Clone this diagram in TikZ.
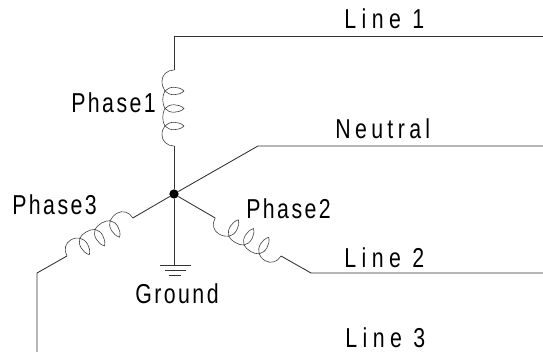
\documentclass[tikz,border=0pt]{standalone}
\usepackage{fontspec}
\setmainfont{Liberation Sans}[FakeStretch=0.78]
\tikzset{
	wire/.style = {line width = 0.65pt, black!80},
	winding/.style = {line width = 0.45pt, black!75},
	tag/.style = {anchor = base west, inner sep = 0pt, font = \fontsize{20.5pt}{22pt}\selectfont\addfontfeature{LetterSpace=#1}},
	coil/.pic = {
		\coordinate (-low) at (0,0);
		\coordinate (-high) at (0,-76);
		\draw [winding](0,0) .. controls (-7,0) and (-12,-5) .. (-12,-11) .. controls (-12,-15) and (-11,-18) .. (-9,-20);
		\draw [winding](-9,-20) .. controls (-12,-24) and (-12,-33) .. (-9,-37.5);
		\draw [winding](-9,-37.5) .. controls (-12,-42) and (-12,-51) .. (-9,-55);
		\draw [winding](-9,-55) .. controls (-11,-58) and (-12,-61) .. (-12,-65) .. controls (-12,-71) and (-7,-76) .. (0,-76);
		\foreach \y in {-20,-37.5,-55}{
			\draw [winding](-9,\y) .. controls (-5,\y-5) and (5,\y-5) .. (10,\y) .. controls (5,\y+5) and (-5,\y+5) .. (-9,\y);
		}
	}
}

\begin{document}
\begin{tikzpicture}[x = 0.75pt, y = -0.75pt]
	\useasboundingbox (0,0) rectangle (543,352);

	\node (star)[circle, fill = black, inner sep = 0pt, minimum size = 7pt] at (174,194) {};

	\pic (one) at (174,146) {coil};
	\pic (two)[rotate = 60] at (281,256) {coil};
	\pic (three)[rotate = -60] at (67,256) {coil};

	\coordinate (lineA) at (543,36);
	\coordinate (cornerA) at (174,36);
	\coordinate (neutralA) at (258,146);
	\coordinate (neutralB) at (543,146);
	\coordinate (lineB) at (311,273);
	\coordinate (lineBend) at (543,273);
	\coordinate (cornerC) at (37,273);
	\coordinate (lineC) at (37,352);

	\coordinate (g0) at (174,265);
	\coordinate (g1l) at (160,265);
	\coordinate (g1r) at (191,265);
	\coordinate (g2l) at (165,270);
	\coordinate (g2r) at (186,270);
	\coordinate (g3l) at (169,275);
	\coordinate (g3r) at (181,275);

	\draw [wire](star)--(one-low);
	\draw [wire](one-high)--(cornerA)--(lineA);
	\draw [wire](star)--(neutralA)--(neutralB);
	\draw [wire](star)--(two-high);
	\draw [wire](two-low)--(lineB)--(lineBend);
	\draw [wire](star)--(three-high);
	\draw [wire](three-low)--(cornerC)--(lineC);
	\draw [wire](star)--(g0);
	\draw [wire](g1l)--(g1r);
	\draw [wire](g2l)--(g2r);
	\draw [wire](g3l)--(g3r);

	\node (lab1)[tag = 20] at (344,29) {Line 1};
	\node (lab2)[tag = 20] at (344,268) {Line 2};
	\node (lab3)[tag = 20] at (345,348) {Line 3};
	\node (labn)[tag = 16] at (335,139) {Neutral};
	\node (ph1)[tag = 9] at (71,113) {Phase1};
	\node (ph2)[tag = 9] at (246,219) {Phase2};
	\node (ph3)[tag = 9] at (12,215) {Phase3};
	\node (gnd)[tag = 9] at (135,304) {Ground};
\end{tikzpicture}
\end{document}
